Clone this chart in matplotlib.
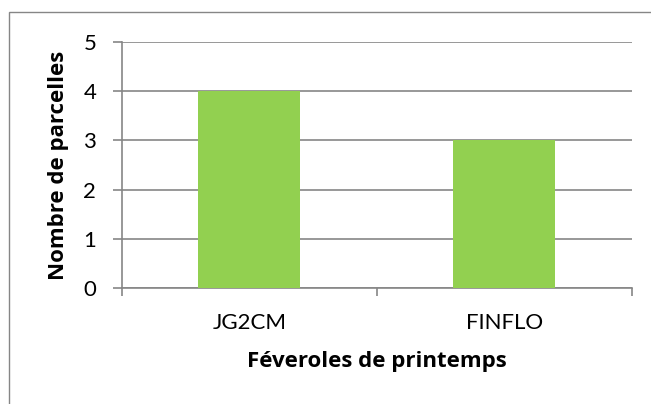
import matplotlib.pyplot as plt
from matplotlib.patches import Rectangle

varietes = ['JG2CM', 'FINFLO']
parcelles = [4, 3]

W, H = 651, 404
fig = plt.figure(figsize=(W / 100, H / 100), dpi=100)
plt.rcParams['font.family'] = ['Lato', 'DejaVu Sans']

# chart border (only top and left visible in the crop)
fig.patches.append(Rectangle((9 / W, -0.1), 1.2, (H - 12) / H + 0.1,
                             transform=fig.transFigure, fill=False,
                             edgecolor='#868686', linewidth=1))

ax = fig.add_axes([122 / W, (H - 288) / H, (631.5 - 122) / W, (288 - 42) / H])

ax.bar(range(len(varietes)), parcelles, width=0.4, color='#92D050', zorder=3)

ax.set_xlim(-0.5, 1.5)
ax.set_ylim(0, 5)
ax.set_yticks(range(6))
ax.yaxis.grid(True, color='#868686', linewidth=1.2)
ax.set_axisbelow(True)

for s in ['top', 'right']:
    ax.spines[s].set_visible(False)
for s in ['left', 'bottom']:
    ax.spines[s].set_color('#868686')
    ax.spines[s].set_linewidth(1.2)

ax.set_xticks([-0.5, 0.5, 1.5], minor=False)
ax.set_xticklabels([])
ax.set_xticks([0, 1], minor=True)
ax.set_xticklabels(varietes, minor=True, fontsize=16)
ax.tick_params(axis='x', which='major', length=6, color='#868686', width=1.2)
ax.tick_params(axis='x', which='minor', length=0, pad=18)
ax.tick_params(axis='y', length=6.5, color='#868686', width=1.2, labelsize=16, pad=12)

bold = dict(fontsize=16, fontweight='bold', va='center', family=['Open Sans', 'DejaVu Sans'])
ax.set_xlabel('Féveroles de printemps', **bold)
ax.xaxis.set_label_coords(0.5, (288 - 362) / 246)
ax.set_ylabel('Nombre de parcelles', **bold)
ax.yaxis.set_label_coords((58 - 122) / 509.5, 0.5)

fig.savefig('out.png', dpi=100)
